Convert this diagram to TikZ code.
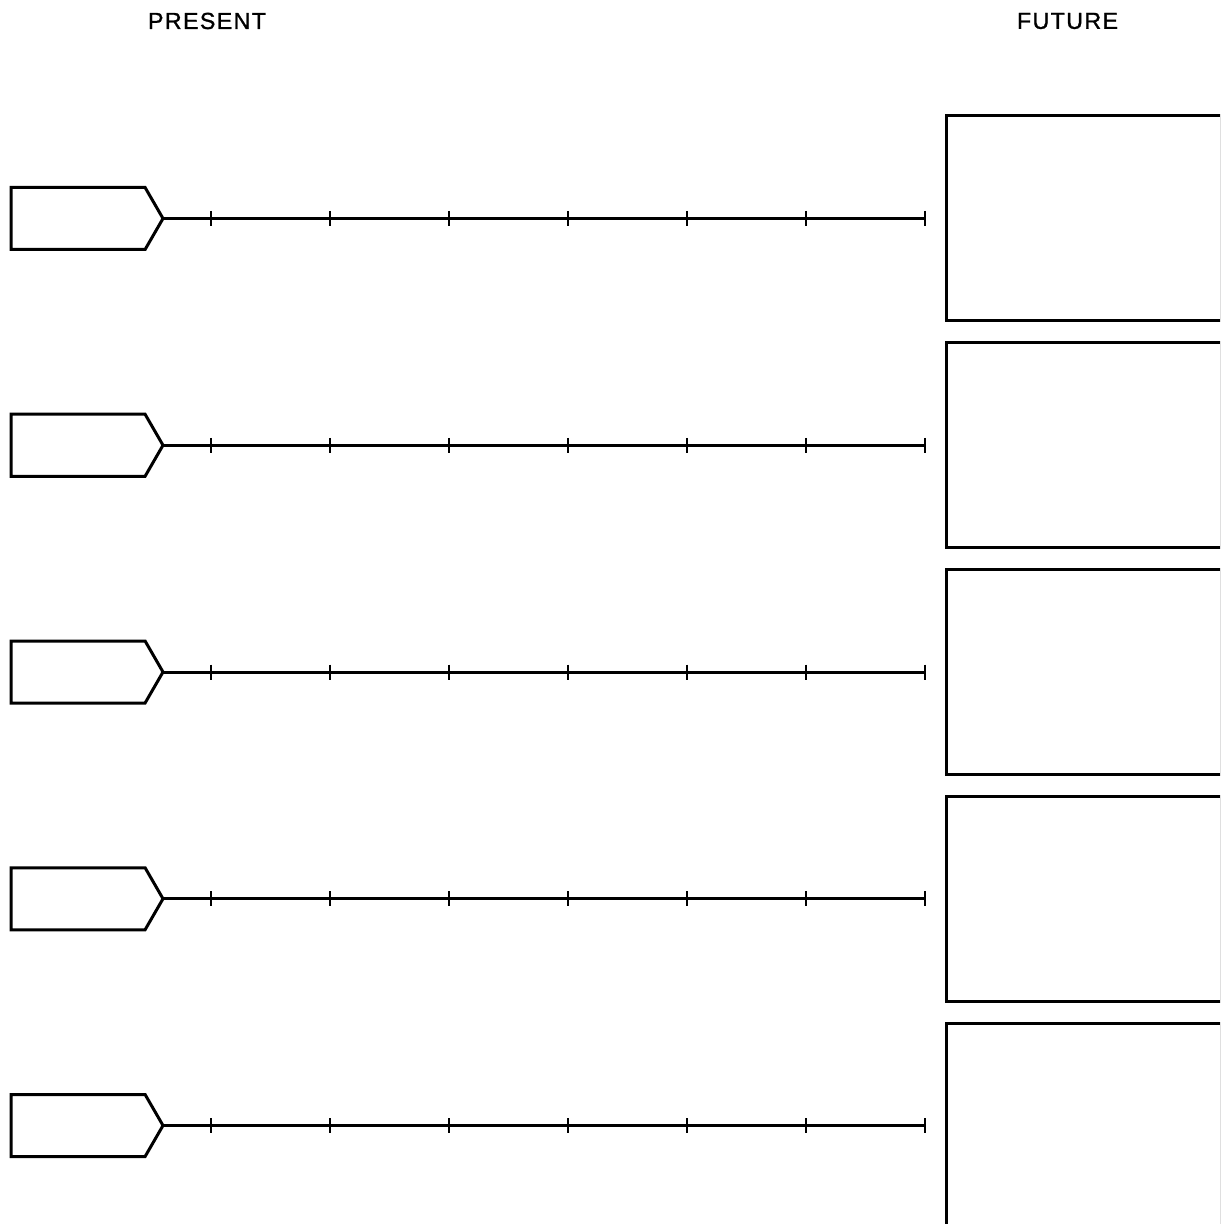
\documentclass[tikz,border=0pt]{standalone}
\usepackage{fontspec}
\setmainfont{Liberation Sans}[LetterSpace=6,FakeBold=1.2]
\usetikzlibrary{shapes.symbols}
\begin{document}
\begin{tikzpicture}[x=0.5pt,y=-0.5pt,
  heading/.style={font=\fontsize{11.6}{13}\selectfont, inner sep=0pt, anchor=center},
  startbox/.style={signal, signal to=east, signal pointer angle=120, draw=black, line width=1.5pt,
     minimum width=76pt, minimum height=31pt, inner sep=0pt, outer sep=0pt, anchor=west},
  futurebox/.style={rectangle, draw=black, line width=1.5pt, minimum width=137.5pt,
     minimum height=102.5pt, inner sep=0pt, outer sep=0pt, anchor=north west},
  timeline/.style={line width=1.5pt},
  tickmark/.style={line width=1.3pt}]
\useasboundingbox (0,0) rectangle (1220,1224);
\clip (0,0) rectangle (1220,1224);
\node[heading] (present) at (207,21) {PRESENT};
\node[heading] (future) at (1067.5,21) {FUTURE};
\foreach \i in {1,...,5}{
  \pgfmathsetmacro{\yc}{218.5+226.75*(\i-1)}
  \pgfmathsetmacro{\yt}{116+226.75*(\i-1)}
  \node[startbox] (p\i) at (11,\yc) {};
  \node[futurebox] (f\i) at (946,\yt) {};
  \coordinate (e\i) at (925,\yc);
  \draw[timeline] (p\i.east) -- (e\i);
  \foreach \k in {0,...,6}{
    \coordinate (t\i-\k) at ({211+119*\k},\yc);
    \draw[tickmark] ([yshift=3.75pt]t\i-\k) -- ([yshift=-3.75pt]t\i-\k);
  }
}
\end{tikzpicture}
\end{document}
